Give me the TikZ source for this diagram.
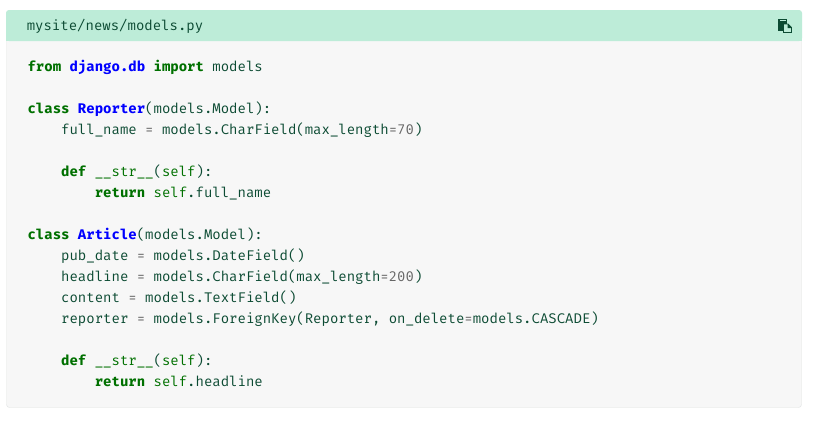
\documentclass[tikz,border=0pt]{standalone}
\usepackage{fontspec}
\newfontfamily\codefont{Fira Mono}[BoldFont={Fira Mono Bold}]
\definecolor{hdr}{HTML}{BDECD8}
\definecolor{bodybg}{HTML}{F7F7F7}
\definecolor{edge}{HTML}{E0E3E2}
\definecolor{ink}{HTML}{0C4B33}
\definecolor{kw}{HTML}{007000}
\definecolor{cls}{HTML}{0000FF}
\definecolor{num}{HTML}{666666}
\newcommand{\KW}[1]{\textcolor{kw}{\textbf{#1}}}
\newcommand{\CL}[1]{\textcolor{cls}{\textbf{#1}}}
\newcommand{\NM}[1]{\textcolor{num}{#1}}
\newcommand{\SF}[1]{\textcolor{kw}{#1}}
\tikzset{codeline/.style={anchor=base west,inner sep=0pt,text=ink,font=\codefont\fontsize{14bp}{16bp}\selectfont}}
\begin{document}
\begin{tikzpicture}[x=1bp,y=-1bp]
\useasboundingbox (0,0) rectangle (819,421);
\fill[white] (0,0) rectangle (819,421);
\draw[edge,fill=bodybg,rounded corners=3] (6.5,10.5) rectangle (801.5,407.5);
\fill[hdr,rounded corners=3] (6,10) rectangle (802,41);
\fill[hdr] (6,30) rectangle (802,41);
\node[codeline] (title) at (26.6,30) {mysite/news/models.py};
\node[codeline] (l1) at (27.4,71) {\KW{from} \CL{django.db} \KW{import} models};
\node[codeline] (l2) at (27.4,113) {\KW{class} \CL{Reporter}(models.Model):};
\node[codeline] (l3) at (27.4,134) {\ \ \ \ full\_name \NM{=} models.CharField(max\_length\NM{=70})};
\node[codeline] (l4) at (27.4,176) {\ \ \ \ \KW{def} \SF{\_\_str\_\_}(\SF{self}):};
\node[codeline] (l5) at (27.4,197) {\ \ \ \ \ \ \ \ \KW{return} \SF{self}.full\_name};
\node[codeline] (l6) at (27.4,239) {\KW{class} \CL{Article}(models.Model):};
\node[codeline] (l7) at (27.4,260) {\ \ \ \ pub\_date \NM{=} models.DateField()};
\node[codeline] (l8) at (27.4,281) {\ \ \ \ headline \NM{=} models.CharField(max\_length\NM{=200})};
\node[codeline] (l9) at (27.4,302) {\ \ \ \ content \NM{=} models.TextField()};
\node[codeline] (l10) at (27.4,323) {\ \ \ \ reporter \NM{=} models.ForeignKey(Reporter, on\_delete\NM{=}models.CASCADE)};
\node[codeline] (l11) at (27.4,365) {\ \ \ \ \KW{def} \SF{\_\_str\_\_}(\SF{self}):};
\node[codeline] (l12) at (27.4,386) {\ \ \ \ \ \ \ \ \KW{return} \SF{self}.headline};
\fill[ink] (778,19) rectangle (787,31);
\fill[hdr] (779.5,20.3) rectangle (785.5,21);
\draw[ink,fill=hdr,line width=0.8] (783.5,24) -- (788,24) -- (791.5,27.5) -- (791.5,32.4) -- (783.5,32.4) -- cycle;
\fill[ink] (787.5,24) -- (791.5,28) -- (787.5,28) -- cycle;
\end{tikzpicture}
\end{document}
